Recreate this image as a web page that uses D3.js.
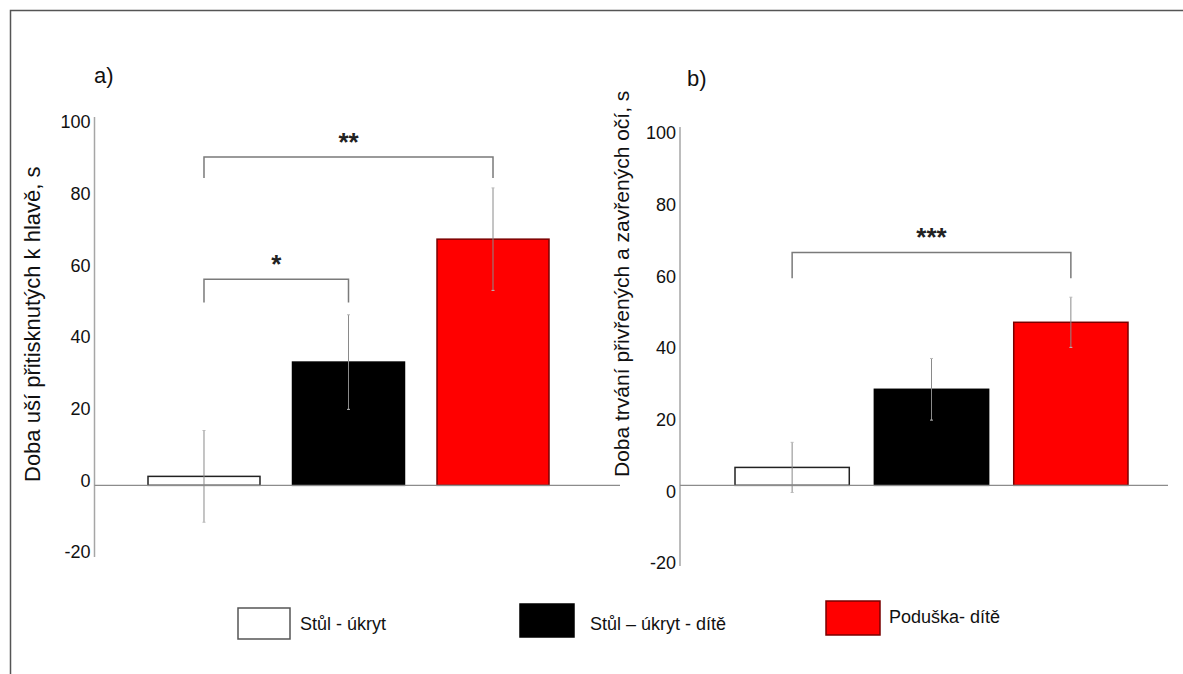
<!DOCTYPE html>
<html>
<head>
<meta charset="utf-8">
<script src="https://cdn.jsdelivr.net/npm/d3@7"></script>
<style>
  body { margin: 0; background: #fff; }
  text { font-family: "Liberation Sans", Arial, sans-serif; }
</style>
</head>
<body>
<div id="chart"></div>
<script>
// Data
const categories = ["Stůl - úkryt", "Stůl – úkryt - dítě", "Poduška- dítě"];
const colors = ["#ffffff", "#000000", "#ff0000"];
const strokes = ["#222222", "#000000", "#7a0000"];

// a) ears pressed to the head
const earsMeans = [2.5, 34.4, 68.7];
const earsErr = [12.8, 13.2, 14.3];

// b) eyes half-closed and closed
const eyesMeans = [5.0, 26.8, 45.5];
const eyesErr = [7.0, 8.6, 7.0];

const yTicks = [-20, 0, 20, 40, 60, 80, 100];

// significance brackets (values in y units)
const bracketsA = [
  { from: 0, to: 1, top: 57.5, leg: 51, label: "*" },
  { from: 0, to: 2, top: 91.6, leg: 85.8, label: "**" }
];
const bracketsB = [
  { from: 0, to: 2, top: 65, leg: 57.8, label: "***" }
];

const width = 1183;
const height = 674;

const svg = d3.select("#chart")
  .append("svg")
  .attr("width", width)
  .attr("height", height);

// outer frame (top + left edge)
svg.append("path")
  .attr("d", "M10.5,674 L10.5,10.5 L1183,10.5")
  .attr("fill", "none")
  .attr("stroke", "#555")
  .attr("stroke-width", 1.5);

// shared y scale
const y = d3.scaleLinear().domain([-20, 100]).range([557, 127]);

function drawPanel(opts) {
  const g = svg.append("g");

  const x = d3.scaleBand()
    .domain(categories)
    .range(opts.xRange)
    .paddingInner(opts.padding)
    .paddingOuter(0);

  // y axis line
  g.append("line")
    .attr("x1", opts.axisX).attr("x2", opts.axisX)
    .attr("y1", opts.axisTop).attr("y2", opts.axisBottom)
    .attr("stroke", "#a6a6a6")
    .attr("stroke-width", 1.5);

  // tick labels (plain hyphen for negatives, like the original)
  g.append("g")
    .attr("transform", `translate(${opts.axisX}, ${opts.labelShift})`)
    .call(d3.axisLeft(y).tickValues(yTicks).tickSize(0).tickPadding(4).tickFormat((d) => String(d)))
    .call((a) => a.select(".domain").remove())
    .selectAll("text")
    .attr("fill", "#111")
    .style("font-size", "18px")
    .style("font-family", "'Liberation Sans', Arial, sans-serif");

  // bars
  g.selectAll(".bar")
    .data(opts.means)
    .enter()
    .append("rect")
    .attr("x", (d, i) => x(categories[i]))
    .attr("y", (d) => y(d))
    .attr("width", x.bandwidth())
    .attr("height", (d) => y(0) - y(d))
    .attr("fill", (d, i) => colors[i])
    .attr("stroke", (d, i) => strokes[i])
    .attr("stroke-width", 1.5);

  // zero line
  g.append("line")
    .attr("x1", opts.axisX).attr("x2", opts.zeroEnd)
    .attr("y1", y(0)).attr("y2", y(0))
    .attr("stroke", "#8c8c8c")
    .attr("stroke-width", 1.2);

  // error bars
  const cx = (i) => x(categories[i]) + x.bandwidth() / 2;
  opts.means.forEach((m, i) => {
    const e = opts.errs[i];
    g.append("line")
      .attr("x1", cx(i)).attr("x2", cx(i))
      .attr("y1", y(m + e)).attr("y2", y(m - e))
      .attr("stroke", "#8a8a8a")
      .attr("stroke-width", 1);
    [m + e, m - e].forEach((v) => {
      g.append("line")
        .attr("x1", cx(i) - 1.5).attr("x2", cx(i) + 1.5)
        .attr("y1", y(v)).attr("y2", y(v))
        .attr("stroke", "#bbb")
        .attr("stroke-width", 1);
    });
  });

  // significance brackets
  opts.brackets.forEach((b) => {
    const x1 = cx(b.from);
    const x2 = cx(b.to);
    g.append("path")
      .attr("d", `M${x1},${y(b.leg)} L${x1},${y(b.top)} L${x2},${y(b.top)} L${x2},${y(b.leg)}`)
      .attr("fill", "none")
      .attr("stroke", "#7a7a7a")
      .attr("stroke-width", 1.5);
    g.append("text")
      .attr("x", (x1 + x2) / 2)
      .attr("y", y(b.top) - 6)
      .attr("text-anchor", "middle")
      .attr("fill", "#222")
      .style("font-size", "26px")
      .style("font-weight", "bold")
      .text(b.label);
  });

  // panel letter
  g.append("text")
    .attr("x", opts.letterX)
    .attr("y", opts.letterY)
    .attr("fill", "#111")
    .style("font-size", "22px")
    .text(opts.letter);

  // y axis title
  g.append("text")
    .attr("transform", `translate(${opts.titleX}, ${opts.titleY}) rotate(-90)`)
    .attr("fill", "#111")
    .style("font-size", opts.titleSize)
    .text(opts.title);
}

drawPanel({
  means: earsMeans,
  errs: earsErr,
  brackets: bracketsA,
  xRange: [148, 549],
  padding: 0.225,
  axisX: 94.5,
  axisTop: 117,
  axisBottom: 557,
  zeroEnd: 620,
  labelShift: -5,
  letter: "a)",
  letterX: 94,
  letterY: 83,
  title: "Doba uší přitisknutých k hlavě, s",
  titleSize: "22px",
  titleX: 40,
  titleY: 482
});

drawPanel({
  means: eyesMeans,
  errs: eyesErr,
  brackets: bracketsB,
  xRange: [735, 1128],
  padding: 0.18,
  axisX: 680,
  axisTop: 127,
  axisBottom: 566,
  zeroEnd: 1168,
  labelShift: 6,
  letter: "b)",
  letterX: 687,
  letterY: 86,
  title: "Doba trvání přivřených a zavřených očí, s",
  titleSize: "21px",
  titleX: 629,
  titleY: 477
});

// legend
const legendBoxes = [
  { x: 238, y: 608, w: 52, h: 31, tx: 300, ty: 630 },
  { x: 520, y: 604, w: 54, h: 33, tx: 590, ty: 630 },
  { x: 826, y: 601, w: 54, h: 34, tx: 889, ty: 623 }
];

const legend = svg.append("g");
categories.forEach((c, i) => {
  const b = legendBoxes[i];
  legend.append("rect")
    .attr("x", b.x).attr("y", b.y)
    .attr("width", b.w).attr("height", b.h)
    .attr("fill", colors[i])
    .attr("stroke", i === 0 ? "#555" : strokes[i])
    .attr("stroke-width", 1.5);
  legend.append("text")
    .attr("x", b.tx).attr("y", b.ty)
    .attr("fill", "#111")
    .style("font-size", "18px")
    .text(c);
});
</script>
</body>
</html>
